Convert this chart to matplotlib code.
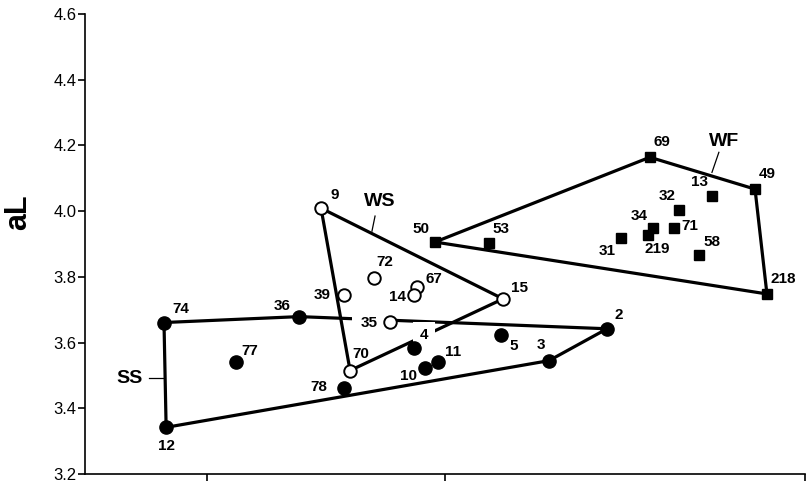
import matplotlib.pyplot as plt
import numpy as np

plt.rcParams['font.family'] = ['Liberation Sans', 'DejaVu Sans']

# SS group (filled circles)
ss_id = ['74', '36', '77', '12', '78', '4', '10', '11', '5', '3', '2']
ss_x = [0.819, 1.387, 1.122, 0.828, 1.576, 1.870, 1.916, 1.971, 2.235, 2.437, 2.681]
ss_y = [3.661, 3.679, 3.542, 3.342, 3.461, 3.582, 3.524, 3.542, 3.624, 3.545, 3.642]
ss_hull = ['74', '36', '2', '3', '12', '74']

# WS group (open circles)
ws_id = ['9', '15', '70', '39', '72', '67', '14', '35']
ws_x = [1.479, 2.244, 1.601, 1.576, 1.702, 1.882, 1.870, 1.769]
ws_y = [4.009, 3.733, 3.515, 3.745, 3.797, 3.770, 3.745, 3.664]
ws_hull = ['9', '15', '70', '9']

# WF group (filled squares)
wf_id = ['50', '53', '69', '49', '218', '13', '32', '34', '219', '71', '31', '58']
wf_x = [1.958, 2.185, 2.861, 3.303, 3.353, 3.122, 2.983, 2.874, 2.853, 2.962, 2.739, 3.067]
wf_y = [3.906, 3.903, 4.164, 4.067, 3.748, 4.045, 4.003, 3.948, 3.927, 3.948, 3.918, 3.867]
wf_hull = ['50', '69', '49', '218', '50']

y_ticks = [3.2, 3.4, 3.6, 3.8, 4.0, 4.2, 4.4, 4.6]

# label offsets in pixels (dx, dy)
ss_off = [(17, 14), (-17, 11), (14, 11), (0, -19), (-25, 1), (10, 13),
          (-17, -8), (15, 10), (13, -11), (-8, 16), (12, 14)]
ws_off = [(14, 13), (16, 11), (11, 16), (-22, 0), (11, 16), (17, 8), (-17, -2), (-21, -1)]
wf_off = [(-14, 13), (12, 14), (12, 15), (12, 15), (16, 15), (-12, 14), (-12, 14),
          (-14, 12), (9, -14), (16, 2), (-14, -13), (13, 13)]

fig = plt.figure(figsize=(8.07, 4.83), dpi=100)
ax = fig.add_axes([85/807, 9/483, 720/807, 460/483])

def hull(ids, xs, ys, order):
    idx = [ids.index(k) for k in order]
    ax.plot(np.array(xs)[idx], np.array(ys)[idx], color='black', lw=2.3,
            solid_joinstyle='miter', zorder=2)

hull(ss_id, ss_x, ss_y, ss_hull)
hull(ws_id, ws_x, ws_y, ws_hull)
hull(wf_id, wf_x, wf_y, wf_hull)

ax.plot(ss_x, ss_y, 'o', ms=9.5, mfc='black', mec='black', ls='none', zorder=4)
ax.plot(ws_x, ws_y, 'o', ms=9, mfc='white', mec='black', mew=1.4, ls='none', zorder=4)
ax.plot(wf_x, wf_y, 's', ms=7, mfc='black', mec='black', ls='none', zorder=4)

# these labels sit in a break of the hull line
gap_pad = {'35': 6, '4': 5}
for ids, xs, ys, offs in [(ss_id, ss_x, ss_y, ss_off), (ws_id, ws_x, ws_y, ws_off),
                          (wf_id, wf_x, wf_y, wf_off)]:
    for k, x, y, (dx, dy) in zip(ids, xs, ys, offs):
        bbox = None
        if k in gap_pad:
            bbox = dict(facecolor='white', edgecolor='none', pad=gap_pad[k])
        ax.annotate(k, (x, y), xytext=(dx, dy), textcoords='offset pixels',
                    ha='center', va='center', fontsize=11, fontweight='bold',
                    bbox=bbox, zorder=3)

# group names with leader lines
ax.text(0.676, 3.491, 'SS', fontsize=14, fontweight='bold', ha='center', va='center')
ax.plot([0.756, 0.815], [3.491, 3.491], color='black', lw=0.9)
ax.text(1.727, 4.030, 'WS', fontsize=14, fontweight='bold', ha='center', va='center')
ax.plot([1.706, 1.693], [3.985, 3.939], color='black', lw=0.9)
ax.text(3.172, 4.212, 'WF', fontsize=14, fontweight='bold', ha='center', va='center')
ax.plot([3.151, 3.122], [4.179, 4.118], color='black', lw=0.9)

ax.set_xlim(0.487, 3.513)
ax.set_ylim(3.2, 4.6)
ax.set_xticks([1, 2, 3.513])
ax.set_xticklabels([])
ax.set_yticks(y_ticks)
ax.set_yticklabels([f'{v:.1f}' for v in y_ticks], fontsize=12)
ax.tick_params(axis='both', direction='out', length=5, width=1.2, pad=1)
ax.spines['top'].set_visible(False)
ax.spines['right'].set_visible(False)
for s in ['left', 'bottom']:
    ax.spines[s].set_linewidth(1.2)

fig.text(18/807, 1 - 212/483, 'aL', rotation=90, fontsize=22, fontweight='bold',
         ha='center', va='center')

fig.savefig('out.png', dpi=100)
